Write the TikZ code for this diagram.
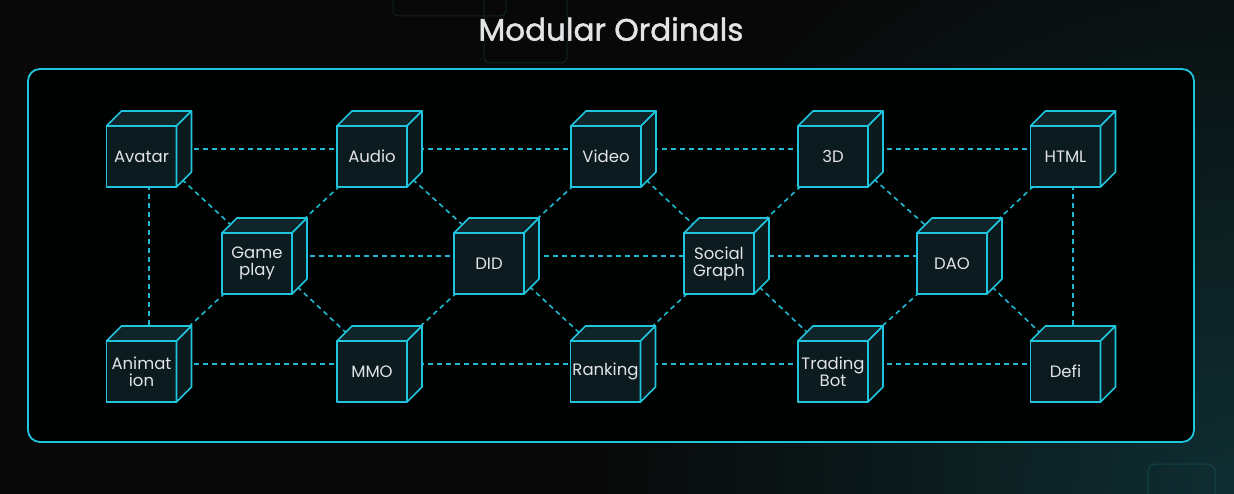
\documentclass[tikz,border=0pt]{standalone}
\usepackage{fontspec}
\setmainfont{Poppins}
\newfontfamily\titlefont[FakeBold=1.4]{Poppins}
\usetikzlibrary{calc}
\pgfdeclarelayer{back}
\pgfdeclarelayer{links}
\pgfsetlayers{back,links,main}
\definecolor{bgc}{HTML}{080808}
\definecolor{teal0}{HTML}{0F2E32}
\definecolor{cyanc}{HTML}{20C4DC}
\definecolor{dashc}{HTML}{1FB8D0}
\definecolor{frontc}{HTML}{0B1B1F}
\definecolor{topc}{HTML}{0F2529}
\definecolor{sidec}{HTML}{0A1A1D}
\definecolor{txtc}{HTML}{E2E4E6}
\definecolor{ghost}{HTML}{132224}
\tikzset{
  cubebox/.style={rectangle, minimum width=89pt, minimum height=80pt, inner sep=0pt},
  face/.style={draw=cyanc, line width=1.6pt, line join=round},
  lbl/.style={text=txtc, font=\fontsize{16.5}{17}\selectfont, align=center, inner sep=0pt},
  link/.style={draw=dashc, line width=1.6pt, dash pattern=on 5pt off 4pt},
}
\newcommand\cubenode[4]{%
  \node[cubebox] (#1) at (#2,#3) {};
  \begin{scope}[shift={(#1.center)}]
    \filldraw[face, fill=frontc] (-42.5,-23) rectangle (27.5,38);
    \filldraw[face, fill=topc] (-42.5,-23) -- (-27.5,-38) -- (42.5,-38) -- (27.5,-23) -- cycle;
    \filldraw[face, fill=sidec] (27.5,-23) -- (42.5,-38) -- (42.5,23) -- (27.5,38) -- cycle;
  \end{scope}
  \node[lbl] (#1-t) at ([shift={(-7.5,7.5)}]#1.center) {#4};
}
\begin{document}
\begin{tikzpicture}[x=1pt,y=-1pt]
\useasboundingbox (0,0) rectangle (1234,494);
\begin{pgfonlayer}{back}
  \fill[bgc] (0,0) rectangle (1234,494);
  \begin{scope}
    \clip (0,0) rectangle (1234,494);
    \shade[inner color=teal0, outer color=bgc] (1234,494) circle (640);
  \end{scope}
  \draw[ghost, line width=1pt, rounded corners=6pt] (393,-10) rectangle (506,16);
  \draw[ghost, line width=1pt, rounded corners=6pt] (484,-10) rectangle (567,63);
  \draw[ghost!60!cyanc!40!teal0, line width=1pt, rounded corners=8pt] (1148,464) rectangle (1215,504);
  \filldraw[draw=cyanc, fill=black!98!teal0, line width=1.8pt, rounded corners=12pt] (28,69) rectangle (1194,442);
\end{pgfonlayer}
\node[text=txtc, font=\titlefont\fontsize{31}{34}\selectfont, inner sep=0pt] (title) at (611,29) {Modular Ordinals};
% row 1
\cubenode{avatar}{149}{149}{Avatar}
\cubenode{audio}{379.5}{149}{Audio}
\cubenode{video}{613.5}{149}{Video}
\cubenode{threed}{840.5}{149}{3D}
\cubenode{html}{1073}{149}{HTML}
% row 2
\cubenode{game}{264.5}{256}{Game\\play}
\cubenode{did}{496.5}{256}{DID}
\cubenode{social}{726.5}{256}{Social\\Graph}
\cubenode{dao}{959.5}{256}{DAO}
% row 3
\cubenode{anim}{149}{364}{Animat\\ion}
\cubenode{mmo}{379.5}{364}{MMO}
\cubenode{rank}{613}{364}{Ranking}
\cubenode{trade}{840.5}{364}{Trading\\Bot}
\cubenode{defi}{1073}{364}{Defi}
\begin{pgfonlayer}{links}
  \path[link] (avatar.center) -- (audio.center) -- (video.center) -- (threed.center) -- (html.center);
  \path[link] (game.center) -- (did.center) -- (social.center) -- (dao.center);
  \path[link] (anim.center) -- (mmo.center) -- (rank.center) -- (trade.center) -- (defi.center);
  \path[link] (avatar.center) -- (anim.center);
  \path[link] (html.center) -- (defi.center);
  \foreach \a/\b in {avatar/game, audio/game, game/anim, game/mmo, audio/did, video/did, did/mmo, did/rank, video/social, threed/social, social/rank, social/trade, threed/dao, html/dao, dao/trade, dao/defi}
    \path[link] (\a.center) -- (\b.center);
\end{pgfonlayer}
\end{tikzpicture}
\end{document}
